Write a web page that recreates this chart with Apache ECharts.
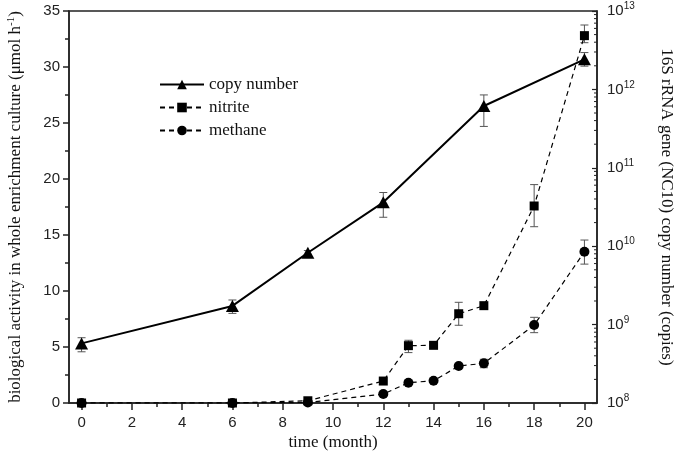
<!DOCTYPE html>
<html>
<head>
<meta charset="utf-8">
<script src="https://cdn.jsdelivr.net/npm/echarts@6/dist/echarts.min.js"></script>
<style>html,body{margin:0;padding:0;background:#fff}#c{width:680px;height:463px}</style>
</head>
<body>
<div id="c"></div>
<script>
// ---- data ----
const months = [0, 6, 9, 12, 13, 14, 15, 16, 18, 20];
const nitrite = [0, 0, 0.2, 1.96, 5.12, 5.15, 7.97, 8.69, 17.59, 32.8];
const nitriteLow = [null, null, null, null, 4.5, null, 6.94, null, 15.74, 32.17];
const nitriteHigh = [null, null, null, null, 5.6, null, 8.99, null, 19.5, 33.75];
const methane = [0, 0, 0.05, 0.8, 1.81, 1.99, 3.3, 3.54, 6.96, 13.5];
const methaneLow = [null, null, null, null, null, null, null, 3.15, 6.28, 12.4];
const methaneHigh = [null, null, null, null, null, null, null, 3.9, 7.65, 14.55];
const copyMonths = [0, 6, 9, 12, 16, 20];
const copyNumber = [5.76e8, 1.73e9, 8.26e9, 3.63e10, 6.14e11, 2.42e12];
const copyLow = [4.5e8, 1.39e9, 7.7e9, 2.34e10, 3.37e11, 1.98e12];
const copyHigh = [6.8e8, 2.06e9, 8.8e9, 4.84e10, 8.5e11, 2.95e12];
const xTicks = [0, 20, 2];      // min, max, interval
const leftTicks = [0, 35, 5];
const rightTicks = [1e8, 1e13];
const rightDecades = [8, 9, 10, 11, 12];
const minorMultipliers = [2, 3, 4, 5, 6, 7, 8, 9];

const pairs = (xs, ys) => xs.map((x, i) => [x, ys[i]]);
const errs = (xs, lo, hi) => xs.map((x, i) => [x, lo[i], hi[i]]).filter(d => d[1] != null);
const logMinor = [];
rightDecades.forEach(e => minorMultipliers.forEach(k => logMinor.push([0, k * Math.pow(10, e)])));

const serif = 'Liberation Serif';
const sans = 'Liberation Sans';

function errRender(params, api) {
  const x = api.value(0);
  const p1 = api.coord([x, api.value(1)]);
  const p2 = api.coord([x, api.value(2)]);
  const w = 4;
  const st = {stroke: '#555', lineWidth: 1, fill: null};
  return {type: 'group', children: [
    {type: 'line', shape: {x1: p1[0], y1: p1[1], x2: p2[0], y2: p2[1]}, style: st},
    {type: 'line', shape: {x1: p1[0] - w, y1: p1[1], x2: p1[0] + w, y2: p1[1]}, style: st},
    {type: 'line', shape: {x1: p2[0] - w, y1: p2[1], x2: p2[0] + w, y2: p2[1]}, style: st}
  ]};
}
function minorTickRender(params, api) {
  const p = api.coord([api.value(0), api.value(1)]);
  const xr = params.coordSys.x + params.coordSys.width;
  return {type: 'line', shape: {x1: xr - 3, y1: p[1], x2: xr, y2: p[1]},
          style: {stroke: '#222', lineWidth: 1}};
}

const chart = echarts.init(document.getElementById('c'), null, {renderer: 'canvas'});
const gridL = 69, gridR = 597, gridT = 11, gridB = 403;
const pxPer = (gridR - gridL) / 21;
chart.setOption({
  animation: false,
  backgroundColor: '#fff',
  grid: [
    {left: gridL, right: 680 - gridR, top: gridT, bottom: 463 - gridB, show: true, borderColor: '#222', borderWidth: 1.5,
     containLabel: false, outerBoundsMode: 'none'},
    {left: gridL + 0.5 * pxPer, right: 680 - (gridR - 0.5 * pxPer), top: gridT, bottom: 463 - gridB,
     containLabel: false, outerBoundsMode: 'none'}
  ],
  legend: {
    orient: 'vertical', left: 154, top: 71, itemWidth: 44, itemHeight: 12, itemGap: 6,
    data: ['copy number', 'nitrite', 'methane'],
    textStyle: {fontFamily: serif, fontSize: 17, color: '#111'}
  },
  xAxis: [
    {type: 'value', gridIndex: 0, min: xTicks[0] - 0.5, max: xTicks[1] + 0.5,
     axisLine: {show: true, onZero: false, lineStyle: {color: '#222', width: 1.5}}, axisTick: {show: false},
     axisLabel: {show: false}, splitLine: {show: false},
     name: 'time (month)', nameLocation: 'middle', nameGap: 31,
     nameTextStyle: {fontFamily: serif, fontSize: 17, color: '#111'}},
    {type: 'value', gridIndex: 1, min: xTicks[0], max: xTicks[1], interval: xTicks[2],
     axisLine: {show: false, onZero: false}, axisTick: {show: true, length: 7, lineStyle: {color: '#222', width: 1.5}},
     minorTick: {show: true, splitNumber: 2, length: 4, lineStyle: {color: '#222', width: 1.5}},
     axisLabel: {fontFamily: sans, fontSize: 15, color: '#222', margin: 12}, splitLine: {show: false}}
  ],
  yAxis: [
    {type: 'value', gridIndex: 0, position: 'left', min: leftTicks[0], max: leftTicks[1], interval: leftTicks[2],
     axisLine: {show: true, onZero: false, lineStyle: {color: '#222', width: 1.5}},
     axisTick: {show: true, length: 6, lineStyle: {color: '#222', width: 1.5}},
     minorTick: {show: true, splitNumber: 2, length: 4, lineStyle: {color: '#222', width: 1.5}},
     axisLabel: {fontFamily: sans, fontSize: 15, color: '#222', margin: 9}, splitLine: {show: false},
     name: '{a|biological activity in whole enrichment culture (μmol h}{s|-1}{a|)}',
     nameLocation: 'middle', nameGap: 44, nameRotate: 90,
     nameTextStyle: {rich: {
       a: {fontFamily: serif, fontSize: 17, color: '#111'},
       s: {fontFamily: serif, fontSize: 11, color: '#111', padding: [0, 0, 8, 0]}}}},
    {type: 'log', logBase: 10, gridIndex: 0, position: 'right', min: rightTicks[0], max: rightTicks[1],
     axisLine: {show: true, onZero: false, lineStyle: {color: '#222', width: 1.5}},
     axisTick: {show: true, inside: true, length: 5, lineStyle: {color: '#222', width: 1.2}},
     minorTick: {show: false},
     axisLabel: {margin: 10, formatter: v => '{b|10}{s|' + Math.round(Math.log10(v)) + '}',
       rich: {b: {fontFamily: sans, fontSize: 15, color: '#222'},
              s: {fontFamily: sans, fontSize: 10, color: '#222', padding: [0, 0, 9, 0]}}},
     splitLine: {show: false},
     name: '16S rRNA gene (NC10) copy number (copies)', nameLocation: 'middle', nameGap: 61, nameRotate: -90,
     nameTextStyle: {fontFamily: serif, fontSize: 17, color: '#111'}},
    {type: 'value', gridIndex: 1, show: false, min: 0, max: 1}
  ],
  series: [
    {name: 'copy number', type: 'line', xAxisIndex: 0, yAxisIndex: 1, data: pairs(copyMonths, copyNumber),
     symbol: 'triangle', symbolSize: [13, 12], itemStyle: {color: '#000'},
     lineStyle: {color: '#000', width: 2}, z: 5},
    {name: 'nitrite', type: 'line', xAxisIndex: 0, yAxisIndex: 0, data: pairs(months, nitrite),
     symbol: 'rect', symbolSize: 9, itemStyle: {color: '#000'},
     lineStyle: {color: '#000', width: 1.2, type: [5, 4]}, z: 4},
    {name: 'methane', type: 'line', xAxisIndex: 0, yAxisIndex: 0, data: pairs(months, methane),
     symbol: 'circle', symbolSize: 10, itemStyle: {color: '#000'},
     lineStyle: {color: '#000', width: 1.2, type: [5, 4]}, z: 4},
    {type: 'custom', xAxisIndex: 0, yAxisIndex: 1, renderItem: errRender, data: errs(copyMonths, copyLow, copyHigh), z: 3},
    {type: 'custom', xAxisIndex: 0, yAxisIndex: 0, renderItem: errRender, data: errs(months, nitriteLow, nitriteHigh), z: 3},
    {type: 'custom', xAxisIndex: 0, yAxisIndex: 0, renderItem: errRender, data: errs(months, methaneLow, methaneHigh), z: 3},
    {type: 'custom', xAxisIndex: 0, yAxisIndex: 1, renderItem: minorTickRender, data: logMinor, silent: true, z: 2}
  ]
});
</script>
</body>
</html>
